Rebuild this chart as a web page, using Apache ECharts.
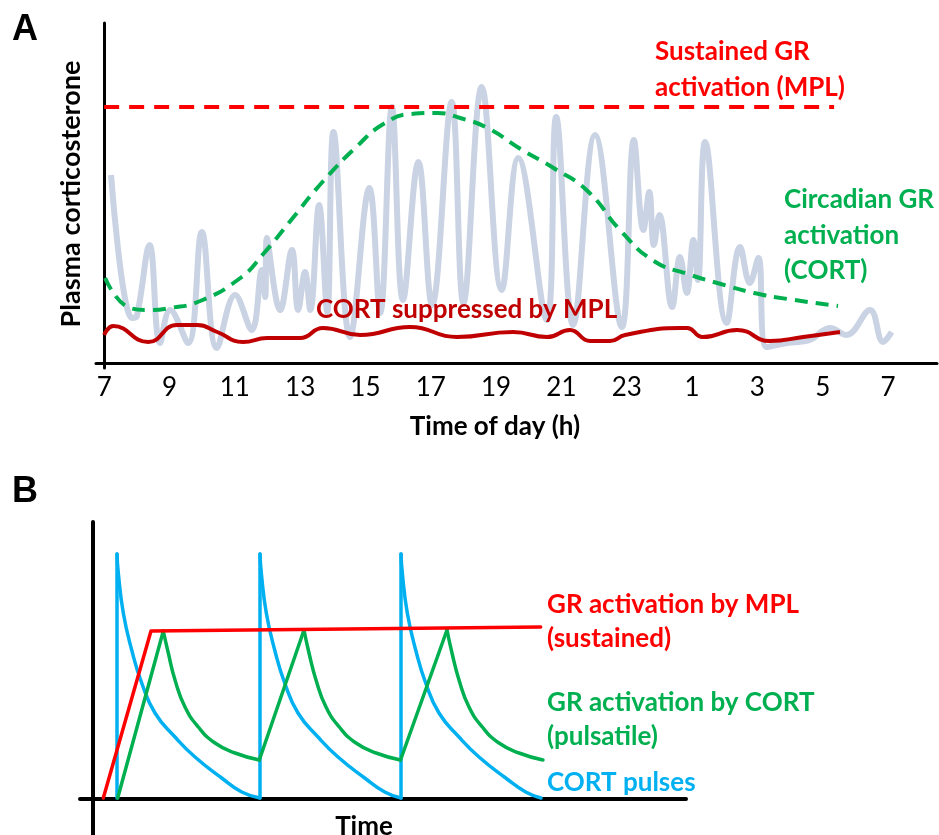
<!DOCTYPE html>
<html>
<head>
<meta charset="utf-8">
<script src="https://cdn.jsdelivr.net/npm/echarts@6/dist/echarts.min.js"></script>
<style>
  html, body { margin: 0; padding: 0; background: #fff; }
  #main { width: 939px; height: 835px; }
</style>
</head>
<body>
<div id="main"></div>
<script>
// panel A: hours after 07:00
const hourTicks = [0, 2, 4, 6, 8, 10, 12, 14, 16, 18, 20, 22, 24];
const hourLabels = ["7", "9", "11", "13", "15", "17", "19", "21", "23", "1", "3", "5", "7"];

const plasmaCort = [
    [0.21, 188], [0.85, 45], [1.0, 47], [1.39, 118], [1.71, 20], [2.02, 53], [2.57, 20],
    [2.99, 131], [3.45, 15], [4.01, 68], [4.52, 33], [4.83, 93], [4.93, 66], [4.98, 125],
    [5.39, 53], [5.75, 113], [5.94, 53], [6.15, 91], [6.31, 53], [6.58, 158], [6.83, 51],
    [7.02, 231], [7.53, 26], [8.12, 175], [8.45, 50], [8.81, 256], [9.15, 63], [9.62, 201],
    [10.04, 58], [10.64, 261], [11.0, 60], [11.56, 276], [12.17, 73], [12.68, 205],
    [13.55, 43], [13.84, 246], [14.36, 38], [15.03, 228], [15.85, 36], [16.22, 223],
    [16.51, 133], [16.69, 171], [16.83, 118], [17.0, 148], [17.39, 56], [17.63, 106],
    [17.84, 70], [18.04, 123], [18.18, 83], [18.4, 221], [19.06, 40], [19.47, 116],
    [19.77, 80], [20.03, 105], [20.28, 16], [20.9, 20], [21.6, 23], [22.22, 35],
    [22.73, 28], [23.45, 53], [23.85, 21], [24.11, 31]
];

const circadian = [
    [0.03, 85], [0.8, 55], [1.32, 53], [2.02, 55], [2.94, 62], [4.17, 85], [4.87, 109],
    [5.7, 142], [6.71, 182], [7.75, 217], [8.55, 239], [9.38, 249], [10.2, 250],
    [10.9, 245], [11.74, 235], [12.75, 214], [13.76, 195], [14.8, 172], [15.82, 132],
    [16.83, 102], [17.87, 89], [18.88, 79], [19.9, 70], [20.93, 64], [22.47, 57]
];

const mplSustained = [[0, 256], [22.35, 256]];

const cortSuppressed = [
    [0, 28], [0.28, 37], [1.35, 21], [2.23, 38], [2.85, 38], [3.46, 31], [4.25, 21],
    [4.99, 25], [6.0, 25], [6.7, 35], [7.84, 28], [9.37, 36], [10.8, 26], [12.52, 31],
    [13.56, 26], [14.26, 33], [14.88, 22], [15.49, 22], [15.95, 28], [17.63, 35],
    [17.85, 35], [18.33, 26], [19.38, 33], [20.39, 22], [21.4, 26], [22.53, 31]
];

// panel B: arbitrary time units
const cortPulseRise = [
    [[24, 1], [24, 245]],
    [[167, 1], [167, 245]],
    [[308, 1], [308, 245]]
];
const cortPulseDecay = [
    [[24, 245], [25.3, 226], [30.3, 186], [38.7, 149], [48.7, 116], [62, 86], [82, 62],
     [102, 42], [128.7, 21], [148.7, 7], [167, 1]],
    [[167, 245], [168.3, 226], [173.3, 186], [181.7, 149], [191.7, 116], [205, 86],
     [225, 62], [245, 42], [271.7, 21], [291.7, 7], [308, 1]],
    [[308, 245], [309.3, 226], [314.3, 186], [322.7, 149], [332.7, 116], [346, 86],
     [366, 62], [386, 42], [412.7, 21], [432.7, 7], [448, 1]]
];

const grCortRise = [
    [[24.7, 1], [70.3, 168]],
    [[166.3, 39], [211, 169]],
    [[307.5, 39], [354, 169]]
];
const grCortDecay = [
    [[70.3, 168], [75.3, 146], [82, 119], [92, 92], [105.3, 72], [122, 56], [142, 46], [166.3, 39]],
    [[211, 169], [216, 146], [223, 119], [233, 92], [246.3, 72], [263, 56], [283, 46], [307.5, 39]],
    [[354, 169], [359, 146], [366, 119], [376, 92], [389.3, 72], [406, 56], [426, 46], [450, 39]]
];

const grByMpl = [[10.3, 1], [58, 168], [447.7, 172]];

const font = "Lato";

function label(text, x, y, color, size) {
    return {
        type: "text",
        x: x,
        y: y,
        z: 100,
        style: {
            text: text,
            fill: color,
            font: "bold " + (size || 26) + "px " + font,
            textVerticalAlign: "middle"
        }
    };
}

function bLine(data, color, smooth, z) {
    return {
        type: "line", xAxisIndex: 1, yAxisIndex: 1, data: data,
        smooth: smooth, symbol: "none", z: z,
        lineStyle: { color: color, width: 3.5, cap: "round", join: "round" }
    };
}

const chart = echarts.init(document.getElementById("main"));

option = {
    animation: false,
    grid: [
        { left: 96, right: 2, top: 23, bottom: 467 },
        { left: 80, right: 253, top: 522, bottom: 0 }
    ],
    xAxis: [
        {
            gridIndex: 0,
            type: "value",
            min: -0.25,
            max: 25.5,
            axisLine: { lineStyle: { color: "#000", width: 3 } },
            axisTick: { show: false },
            splitLine: { show: false },
            axisLabel: {
                customValues: hourTicks,
                formatter: (v) => hourLabels[hourTicks.indexOf(v)],
                color: "#000",
                fontFamily: font,
                fontSize: 26,
                margin: 7
            }
        },
        {
            gridIndex: 1,
            type: "value",
            min: -13,
            max: 593,
            axisLine: { lineStyle: { color: "#000", width: 4 } },
            axisTick: { show: false },
            axisLabel: { show: false },
            splitLine: { show: false }
        }
    ],
    yAxis: [
        {
            gridIndex: 0,
            type: "value",
            min: -5,
            max: 340,
            axisLine: { show: true, lineStyle: { color: "#000", width: 3 } },
            axisTick: { show: false },
            axisLabel: { show: false },
            splitLine: { show: false }
        },
        {
            gridIndex: 1,
            type: "value",
            min: -36,
            max: 277,
            axisLine: { show: true, lineStyle: { color: "#000", width: 4 } },
            axisTick: { show: false },
            axisLabel: { show: false },
            splitLine: { show: false }
        }
    ],
    series: [
        {
            type: "line", xAxisIndex: 0, yAxisIndex: 0, data: plasmaCort,
            smooth: 0.4, symbol: "none", z: 1,
            lineStyle: { color: "#c9d3e3", width: 6 }
        },
        {
            type: "line", xAxisIndex: 0, yAxisIndex: 0, data: circadian,
            smooth: true, symbol: "none", z: 3,
            lineStyle: { color: "#00b050", width: 4, type: [13, 8] }
        },
        {
            type: "line", xAxisIndex: 0, yAxisIndex: 0, data: mplSustained,
            symbol: "none", z: 3,
            lineStyle: { color: "#ff0000", width: 4, type: [15, 10] }
        },
        {
            type: "line", xAxisIndex: 0, yAxisIndex: 0, data: cortSuppressed,
            smooth: 0.5, symbol: "none", z: 4,
            lineStyle: { color: "#c00000", width: 4 }
        }
    ]
        .concat(cortPulseRise.map((d) => bLine(d, "#00b0f0", false, 2)))
        .concat(cortPulseDecay.map((d) => bLine(d, "#00b0f0", 0.5, 2)))
        .concat(grCortRise.map((d) => bLine(d, "#00b050", false, 3)))
        .concat(grCortDecay.map((d) => bLine(d, "#00b050", 0.5, 3)))
        .concat([bLine(grByMpl, "#ff0000", false, 4)]),
    graphic: [
        { type: "text", x: 25, y: 30, z: 100, style: { text: "A", fill: "#000", font: "bold 36px Liberation Sans", textAlign: "center", textVerticalAlign: "middle" } },
        { type: "text", x: 25, y: 492, z: 100, style: { text: "B", fill: "#000", font: "bold 36px Liberation Sans", textAlign: "center", textVerticalAlign: "middle" } },
        {
            type: "text", x: 71, y: 194, rotation: Math.PI / 2, z: 100,
            style: { text: "Plasma corticosterone", fill: "#000", font: "bold 27px " + font, textAlign: "center", textVerticalAlign: "middle" }
        },
        { type: "text", x: 495, y: 427, z: 100, style: { text: "Time of day (h)", fill: "#000", font: "bold 26px " + font, textAlign: "center", textVerticalAlign: "middle" } },
        { type: "text", x: 364, y: 827, z: 100, style: { text: "Time", fill: "#000", font: "bold 26px " + font, textAlign: "center", textVerticalAlign: "middle" } },
        label("Sustained GR", 655, 52, "#ff0000"),
        label("activation (MPL)", 655, 88, "#ff0000"),
        label("Circadian GR", 784, 200, "#00b050"),
        label("activation", 784, 236, "#00b050"),
        label("(CORT)", 784, 271, "#00b050"),
        label("CORT suppressed by MPL", 316, 310, "#c00000"),
        label("GR activation by MPL", 547, 605, "#ff0000"),
        label("(sustained)", 547, 639, "#ff0000"),
        label("GR activation by CORT", 547, 703, "#00b050"),
        label("(pulsatile)", 547, 737, "#00b050"),
        label("CORT pulses", 547, 783, "#00b0f0")
    ]
};

chart.setOption(option);
</script>
</body>
</html>
